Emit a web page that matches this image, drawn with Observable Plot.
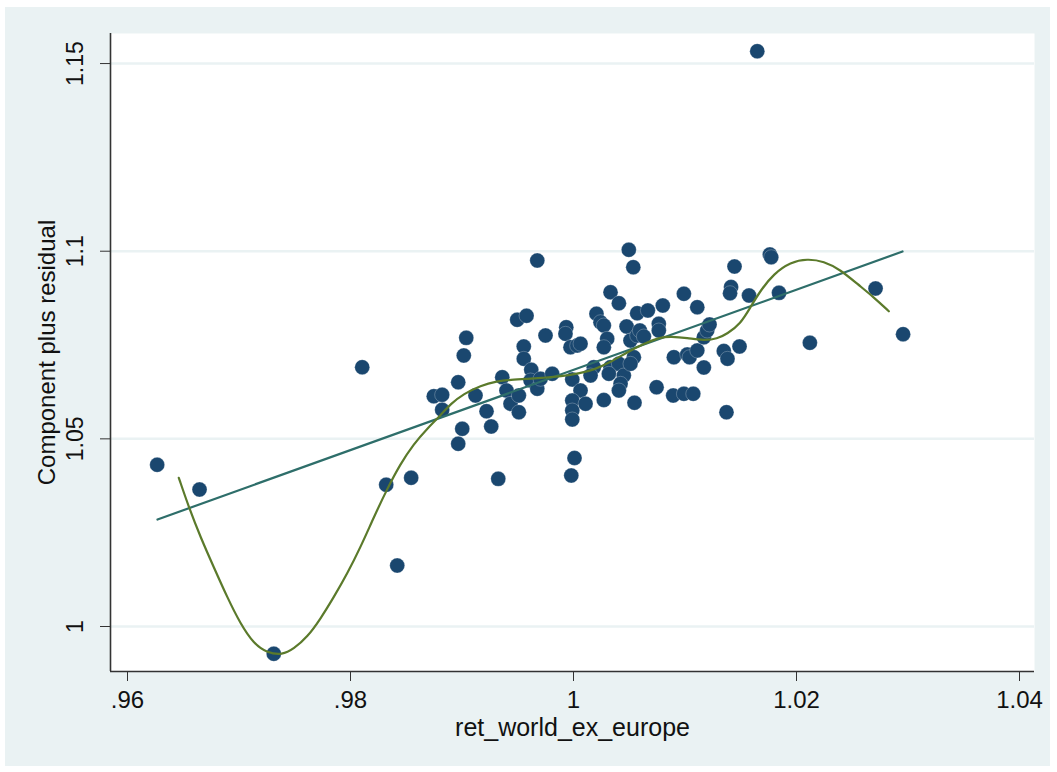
<!DOCTYPE html>
<html>
<head>
<meta charset="utf-8">
<script src="https://cdn.jsdelivr.net/npm/d3@7"></script>
<script src="https://cdn.jsdelivr.net/npm/@observablehq/plot@0.6"></script>
<style>
  html, body { margin: 0; padding: 0; background: #ffffff; }
  #wrap { position: relative; width: 1057px; height: 772px; }
  #panel { position: absolute; left: 5px; top: 7px; width: 1045px; height: 759px; background: #EAF2F3; }
  #chart { position: absolute; left: 0; top: 0; }
  #chart svg { background: transparent; overflow: visible; }
</style>
</head>
<body>
<div id="wrap"><div id="panel"></div><div id="chart"></div></div>
<script>
// Scatter points (ret_world_ex_europe, component plus residual)
const ptsX = [0.96266,0.96646,0.97312,0.98105,0.98320,0.98419,0.98544,0.98747,0.98822,0.98822,
  0.98966,0.99038,0.99016,0.99121,0.99220,0.99262,0.99002,0.98966,0.99325,0.99361,
  0.99399,0.99435,0.99510,0.99510,0.99495,0.99579,0.99554,0.99554,0.99621,0.99615,
  0.99675,0.99704,0.99809,0.99749,0.99675,0.99935,0.99928,0.99973,1.00033,1.00063,
  0.99989,1.00063,0.99989,0.99989,0.99989,1.00108,1.00009,0.99980,1.00182,1.00153,
  1.00206,1.00242,1.00272,1.00302,1.00272,1.00272,1.00332,1.00407,1.00332,1.00407,
  1.00317,1.00451,1.00422,1.00407,1.00476,1.00511,1.00571,1.00595,1.00631,1.00541,
  1.00511,1.00547,1.00496,1.00536,1.00571,1.00667,1.00745,1.00765,1.00765,1.00801,
  1.00900,1.00894,1.00990,1.00990,1.01020,1.01041,1.01074,1.01110,1.01110,1.01169,
  1.01199,1.01220,1.01169,1.01348,1.01381,1.01372,1.01444,1.01413,1.01404,1.01489,
  1.01574,1.01648,1.01761,1.01773,1.01843,1.02120,1.02709,1.02956];
const ptsY = [1.04309,1.03650,0.99273,1.06909,1.03776,1.01625,1.03962,1.06136,1.06174,1.05774,
  1.06509,1.07692,1.07221,1.06155,1.05737,1.05329,1.05268,1.04868,1.03935,1.06643,
  1.06288,1.05934,1.05710,1.06155,1.08172,1.08279,1.07461,1.07133,1.06840,1.06555,
  1.06334,1.06600,1.06733,1.07754,1.09752,1.07975,1.07799,1.07442,1.07487,1.07533,
  1.06581,1.06288,1.06022,1.05755,1.05516,1.05934,1.04490,1.04023,1.06909,1.06688,
  1.08332,1.08108,1.08020,1.07666,1.07442,1.06035,1.08907,1.08614,1.06909,1.07000,
  1.06733,1.06688,1.06467,1.06288,1.07994,1.07620,1.07754,1.07887,1.07727,1.07176,
  1.07000,1.05961,1.10037,1.09574,1.08348,1.08420,1.06376,1.08065,1.07887,1.08553,
  1.07176,1.06155,1.08865,1.06200,1.07247,1.07176,1.06200,1.07354,1.08508,1.07708,
  1.07887,1.08047,1.06901,1.07341,1.07133,1.05710,1.09592,1.09046,1.08881,1.07461,
  1.08820,1.15329,1.09912,1.09840,1.08891,1.07559,1.09006,1.07789];

// Linear fit line endpoints
const fitX = [0.96269, 1.02951];
const fitY = [1.02851, 1.09992];

// Smoothed curve
const smX = [0.96460,0.96550,0.96655,0.96774,0.96894,0.97013,0.97133,0.97253,0.97387,0.97491,
  0.97612,0.97731,0.97850,0.97970,0.98090,0.98209,0.98329,0.98448,0.98568,0.98688,
  0.98807,0.98897,0.99016,0.99166,0.99316,0.99435,0.99585,0.99734,0.99883,1.00063,
  1.00182,1.00332,1.00482,1.00631,1.00780,1.00870,1.01020,1.01169,1.01289,1.01378,
  1.01498,1.01587,1.01677,1.01796,1.01946,1.02096,1.02245,1.02395,1.02544,1.02693,1.02828];
const smY = [1.03962,1.03179,1.02379,1.01580,1.00781,1.00072,0.99539,0.99300,0.99240,0.99406,
  0.99715,1.00205,1.00781,1.01404,1.02113,1.02912,1.03669,1.04335,1.04868,1.05276,
  1.05622,1.05934,1.06200,1.06422,1.06536,1.06573,1.06600,1.06627,1.06661,1.06749,
  1.06840,1.07042,1.07309,1.07533,1.07709,1.07727,1.07692,1.07620,1.07666,1.07799,
  1.08065,1.08508,1.08953,1.09398,1.09707,1.09798,1.09734,1.09504,1.09131,1.08774,1.08401];

const xTicks = [0.96, 0.98, 1, 1.02, 1.04];
const xTickLabels = [".96", ".98", "1", "1.02", "1.04"];
const yTicks = [1, 1.05, 1.1, 1.15];
const yTickLabels = ["1", "1.05", "1.1", "1.15"];
const xTitle = "ret_world_ex_europe";
const yTitle = "Component plus residual";

const points = ptsX.map((x, i) => ({x, y: ptsY[i]}));
const fit = fitX.map((x, i) => ({x, y: fitY[i]}));
const smooth = smX.map((x, i) => ({x, y: smY[i]}));
const yLab = yTicks.map((v, i) => ({v, t: yTickLabels[i]}));

const xDomain = [0.958475, 1.041345];
const yDomain = [0.98801, 1.15801];
const axisColor = "#333333";

const chart = Plot.plot({
  width: 1057,
  height: 772,
  marginLeft: 110,
  marginRight: 23,
  marginTop: 33,
  marginBottom: 101,
  style: {fontFamily: "'Liberation Sans', Arial, Helvetica, sans-serif", background: "transparent", color: "#111"},
  x: {domain: xDomain},
  y: {domain: yDomain},
  marks: [
    Plot.frame({fill: "white", stroke: null}),
    Plot.gridY(yTicks, {stroke: "#EAF2F3", strokeOpacity: 1, strokeWidth: 2.5}),
    Plot.dot(points, {x: "x", y: "y", r: 7.5, fill: "#1A476F", stroke: "#ffffff", strokeWidth: 0.5, strokeOpacity: 0.5}),
    Plot.line(fit, {x: "x", y: "y", stroke: "#2E6E6A", strokeWidth: 2.2}),
    Plot.line(smooth, {x: "x", y: "y", stroke: "#5B7A2B", strokeWidth: 2.2, curve: "basis"}),
    Plot.ruleX([xDomain[0]], {stroke: axisColor, strokeWidth: 1.6}),
    Plot.ruleY([yDomain[0]], {stroke: axisColor, strokeWidth: 1.6}),
    Plot.axisX({ticks: xTicks, tickSize: 10, tickPadding: 9, fontSize: 24, stroke: axisColor,
      tickFormat: (d) => xTickLabels[xTicks.indexOf(d)], label: null}),
    Plot.axisY({ticks: yTicks, tickSize: 10, tickFormat: () => "", stroke: axisColor, label: null}),
    Plot.text(yLab, {y: "v", text: "t", frameAnchor: "left", dx: -35, rotate: -90,
      textAnchor: "middle", lineAnchor: "middle", fontSize: 23, fill: "#111"}),
    Plot.text([yTitle], {text: (d) => d, frameAnchor: "left", dx: -63, rotate: -90,
      textAnchor: "middle", lineAnchor: "middle", fontSize: 24, fill: "#111"}),
    Plot.text([xTitle], {text: (d) => d, frameAnchor: "bottom", dy: 56,
      textAnchor: "middle", lineAnchor: "middle", fontSize: 25, fill: "#111"})
  ]
});
document.getElementById("chart").appendChild(chart);
</script>
</body>
</html>
